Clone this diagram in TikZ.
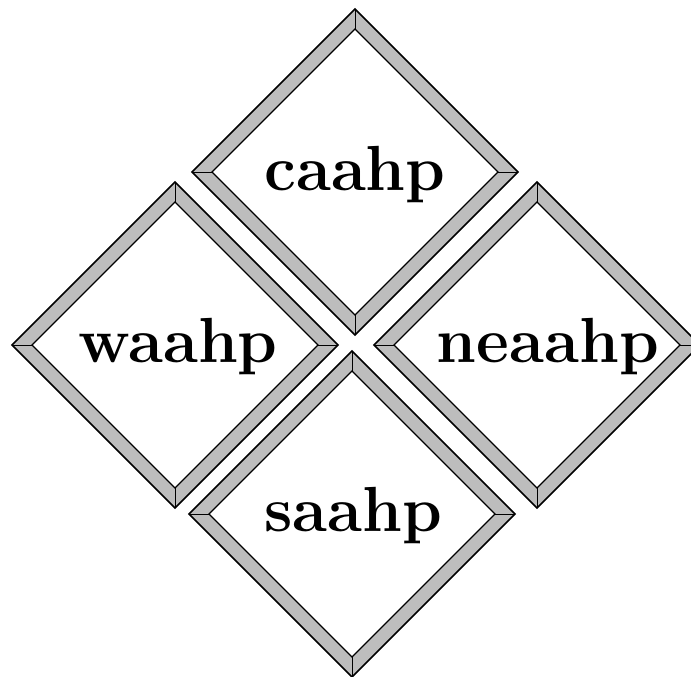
\documentclass[tikz,border=0pt]{standalone}
\tikzset{
  framefill/.style={fill=black!26, even odd rule},
  outerline/.style={line width=1.6pt, line join=miter, black},
  innerline/.style={line width=1.3pt, line join=miter, black},
  seam/.style={line width=0.9pt, black},
  labeltext/.style={font=\bfseries\fontsize{64}{64}\selectfont, anchor=base, inner sep=0pt}
}
\begin{document}
\begin{tikzpicture}[x=1bp,y=-1bp]
\useasboundingbox (0,0) rectangle (691,677);
\fill[white] (0,0) rectangle (691,677);
\begin{scope}
\clip (0,0) rectangle (691,677);
\foreach \n/\cx/\cy in {top/355/172, left/175/345, right/537/345, bottom/352/514} {
  \coordinate (\n-ot) at (\cx,\cy-163);
  \coordinate (\n-or) at (\cx+163,\cy);
  \coordinate (\n-ob) at (\cx,\cy+163);
  \coordinate (\n-ol) at (\cx-163,\cy);
  \coordinate (\n-it) at (\cx,\cy-143);
  \coordinate (\n-ir) at (\cx+143,\cy);
  \coordinate (\n-ib) at (\cx,\cy+143);
  \coordinate (\n-il) at (\cx-143,\cy);
  \fill[framefill] (\n-ot) -- (\n-or) -- (\n-ob) -- (\n-ol) -- cycle
                   (\n-it) -- (\n-ir) -- (\n-ib) -- (\n-il) -- cycle;
  \draw[seam] (\n-ot) -- (\n-it) (\n-or) -- (\n-ir) (\n-ob) -- (\n-ib) (\n-ol) -- (\n-il);
  \draw[outerline] (\n-ot) -- (\n-or) -- (\n-ob) -- (\n-ol) -- cycle;
  \draw[innerline] (\n-it) -- (\n-ir) -- (\n-ib) -- (\n-il) -- cycle;
}
\end{scope}
\node[labeltext] (caahp) at (355,190) {caahp};
\node[labeltext] (waahp) at (178,362) {waahp};
\node[labeltext] (neaahp) at (548,362) {neaahp};
\node[labeltext] (saahp) at (353,531) {saahp};
\end{tikzpicture}
\end{document}
